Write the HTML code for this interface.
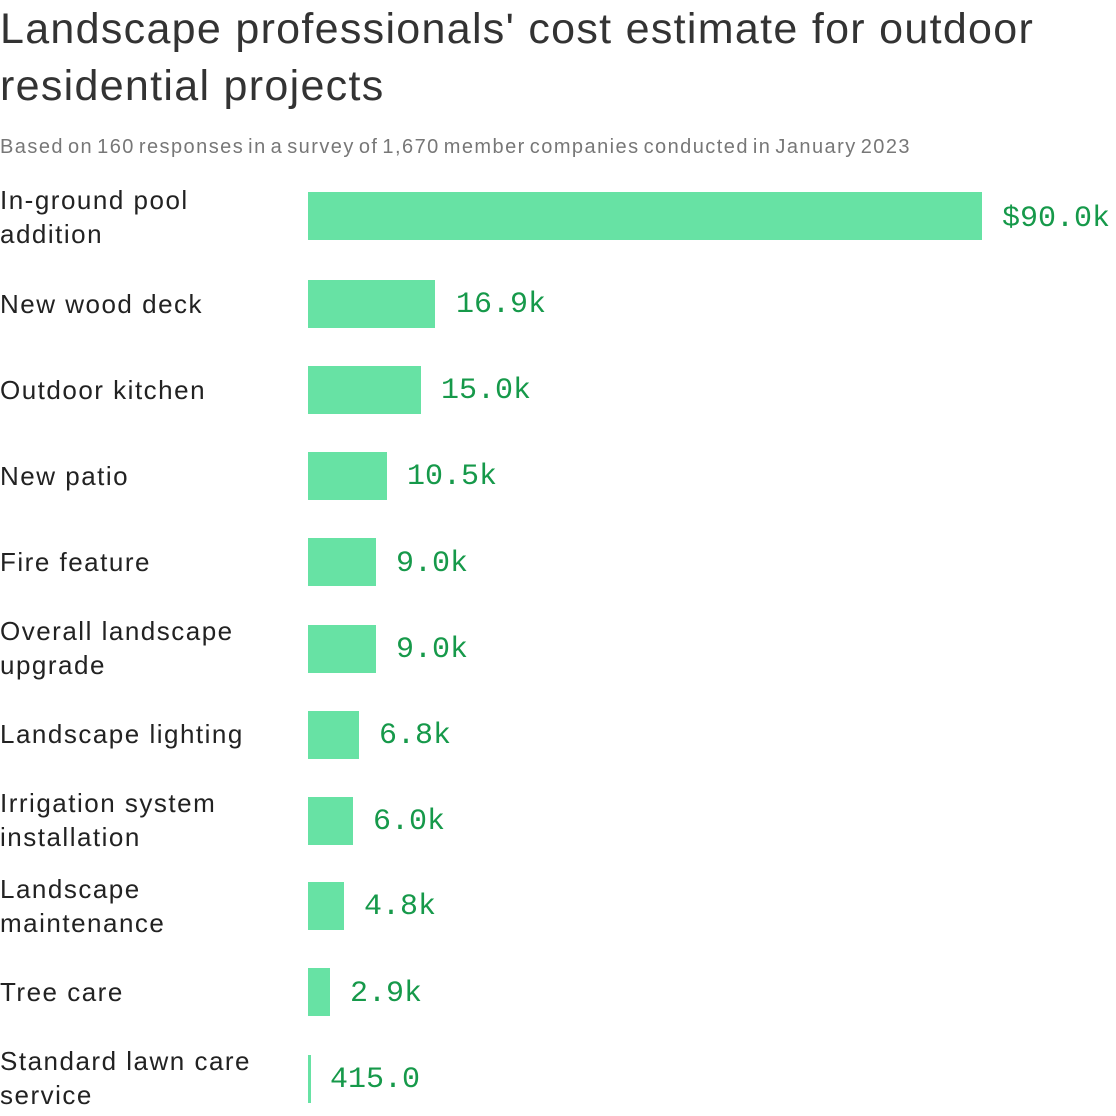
<!DOCTYPE html>
<html><head><meta charset="utf-8"><style>
body{margin:0;width:1116px;height:1116px;background:#fff;position:relative;overflow:hidden;font-family:"Liberation Sans",sans-serif}
.t{position:absolute;left:0;top:1px;font-size:43px;line-height:57px;color:#333;width:1116px;letter-spacing:1.3px}
.s{position:absolute;left:0;top:136px;font-size:20px;color:#777;letter-spacing:1.45px;word-spacing:-3px;white-space:nowrap}
.l{position:absolute;left:0;font-size:26px;line-height:34px;color:#222;transform:translateY(-50%);letter-spacing:1.5px;white-space:nowrap}
.b{position:absolute;left:308px;height:48px;background:#67e2a4}
.v{position:absolute;font-family:"Liberation Mono",monospace;font-size:30px;color:#16994a;transform:translateY(-50%);line-height:34px}
</style></head><body>
<div class="t">Landscape professionals' cost estimate for outdoor residential projects</div>
<div class="s">Based on 160 responses in a survey of 1,670 member companies conducted in January 2023</div>

<div class="l" style="top:217px">In-ground pool<br>addition</div>
<div class="b" style="top:192px;width:674px"></div><div class="v" style="top:219px;left:1002px">$90.0k</div>

<div class="l" style="top:304px">New wood deck</div>
<div class="b" style="top:280px;width:127px"></div><div class="v" style="top:305px;left:456px">16.9k</div>

<div class="l" style="top:390px">Outdoor kitchen</div>
<div class="b" style="top:366px;width:113px"></div><div class="v" style="top:391px;left:441px">15.0k</div>

<div class="l" style="top:476px">New patio</div>
<div class="b" style="top:452px;width:79px"></div><div class="v" style="top:477px;left:407px">10.5k</div>

<div class="l" style="top:562px">Fire feature</div>
<div class="b" style="top:538px;width:68px"></div><div class="v" style="top:564px;left:396px">9.0k</div>

<div class="l" style="top:648px">Overall landscape<br>upgrade</div>
<div class="b" style="top:625px;width:68px"></div><div class="v" style="top:650px;left:396px">9.0k</div>

<div class="l" style="top:734px">Landscape lighting</div>
<div class="b" style="top:711px;width:51px"></div><div class="v" style="top:736px;left:379px">6.8k</div>

<div class="l" style="top:820px">Irrigation system<br>installation</div>
<div class="b" style="top:797px;width:45px"></div><div class="v" style="top:822px;left:373px">6.0k</div>

<div class="l" style="top:906px">Landscape<br>maintenance</div>
<div class="b" style="top:882px;width:36px"></div><div class="v" style="top:907px;left:364px">4.8k</div>

<div class="l" style="top:992px">Tree care</div>
<div class="b" style="top:968px;width:22px"></div><div class="v" style="top:994px;left:350px">2.9k</div>

<div class="l" style="top:1078px">Standard lawn care<br>service</div>
<div class="b" style="top:1055px;width:3px"></div><div class="v" style="top:1080px;left:330px">415.0</div>
</body></html>
